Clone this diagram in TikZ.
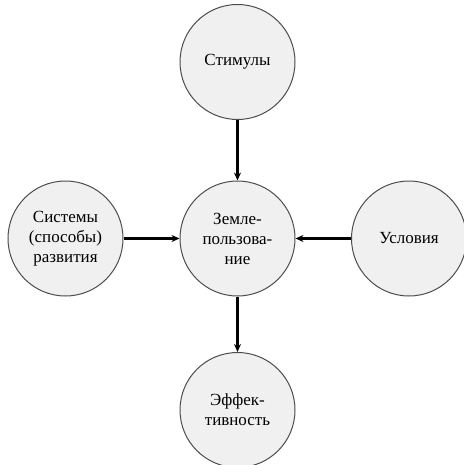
\documentclass[tikz,border=0pt]{standalone}
\usepackage{fontspec}
\setmainfont{Liberation Serif}
\newfontfamily\diagfont{Liberation Serif}
\usetikzlibrary{arrows.meta}
\begin{document}
\begin{tikzpicture}[x=1pt,y=-1pt,
  bubble/.style={circle,draw=black!70,fill=black!6,line width=1pt,minimum size=115pt,inner sep=0pt,align=center,font=\diagfont\fontsize{17}{20}\selectfont},
  link/.style={line width=2.2pt,-{Stealth[length=8pt,width=7pt]}}]
\useasboundingbox (0,0) rectangle (463,465);
\node[bubble] (top) at (237.5,62) {Стимулы};
\node[bubble] (mid) at (237.5,238.5) {Земле-\\пользова-\\ние};
\node[bubble] (left) at (65.5,238.5) {Системы\\(способы)\\развития};
\node[bubble] (right) at (409,238.5) {Условия};
\node[bubble] (bot) at (237.5,410) {Эффек-\\тивность};
\draw[link] (top) -- (mid);
\draw[link] (left) -- (mid);
\draw[link] (right) -- (mid);
\draw[link] (mid) -- (bot);
\end{tikzpicture}
\end{document}
